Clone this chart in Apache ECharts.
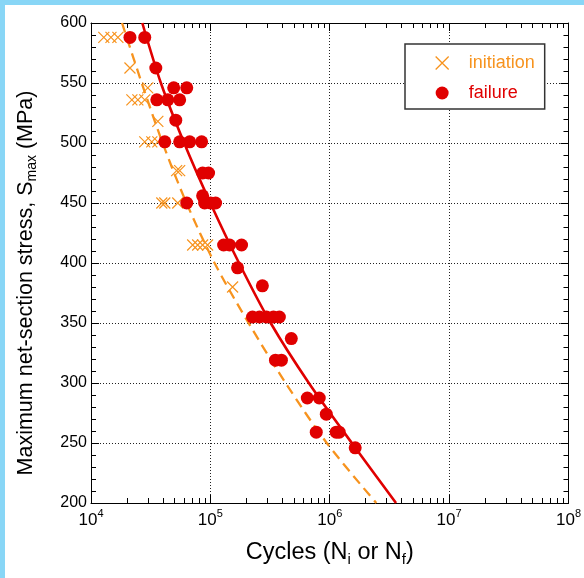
<!DOCTYPE html>
<html><head><meta charset="utf-8">
<script src="https://cdn.jsdelivr.net/npm/echarts@6/dist/echarts.min.js"></script>
<style>html,body{margin:0;padding:0;background:#fff}#c{width:584px;height:578px}</style>
</head><body><div id="c"></div>
<script>
// ---- data ----
const initiationN = [12800, 14700, 16800, 21200, 29900, 22000, 24700, 28200, 36300, 28200, 32300, 36300,
  52200, 55300, 39200, 41500, 53300, 71100, 78300, 86100, 94800, 153500];
const initiationS = [588, 588, 588, 562.5, 546, 536, 536, 536, 518, 501, 501, 501,
  477, 477, 450, 450, 450, 415, 415, 415, 415, 380];

const failureN = [21200, 28200, 34900, 49300, 63400, 35600, 44000, 55300, 51300, 41500, 55300, 67100, 84500,
  86100, 96600, 86100, 63400, 89500, 100400, 110600, 129100, 144900, 182500, 169000, 272700,
  225500, 257800, 294800, 337400, 378500, 476500, 350900, 393800, 648500, 816800, 935700,
  771000, 1133000, 1200000, 1634000];
const failureS = [588, 588, 562.5, 546, 546, 536, 536, 536, 519, 501, 501, 501, 501,
  475, 475, 456, 450, 450, 450, 450, 415, 415, 415, 396, 381,
  355, 355, 355, 355, 355, 337, 319, 319, 287.5, 287.5, 274,
  259, 259, 259, 246];

// fitted curves
const fitS = [600, 550, 500, 450, 400, 350, 300, 250, 200];
const failureFitN = [26900, 38500, 60300, 100000, 173800, 320000, 668000, 1531000, 3590000];
const initiationFitN = [18200, 26600, 39800, 63100, 108400, 208900, 426600, 944000, 2455000];

const yTicks = [200, 250, 300, 350, 400, 450, 500, 550, 600];
const xDecades = [1e4, 1e5, 1e6, 1e7, 1e8];
const legendNames = ['initiation', 'failure'];

// ---- presentation ----
const RED = '#e00000', ORANGE = '#f7931e', FONT = '"Liberation Sans", Arial, sans-serif';
const zip = (a, b) => a.map((v, i) => [v, b[i]]);
const minorLog = [];
for (let d = 4; d < 8; d++) for (let m = 2; m <= 9; m++) minorLog.push(Math.log10(m) + d);

const gridSplit = { show: true, lineStyle: { color: '#222', type: [1, 2], width: 1 } };
const axisLine = { show: true, lineStyle: { color: '#000', width: 1 } };

function xLog(pos, labels) {
  return {
    type: 'log', logBase: 10, min: xDecades[0], max: xDecades[xDecades.length - 1], position: pos,
    gridIndex: 0, axisLine: axisLine,
    axisTick: { show: true, inside: true, length: 8, lineStyle: { color: '#000' } },
    splitLine: labels ? gridSplit : { show: false },
    axisLabel: labels ? {
      show: true, margin: 5, fontFamily: FONT, color: '#000',
      formatter: v => '{b|10}{s|' + Math.round(Math.log10(v)) + '}',
      rich: {
        b: { fontSize: 17, lineHeight: 24, fontFamily: FONT, color: '#000' },
        s: { fontSize: 11, lineHeight: 11, verticalAlign: 'top', fontFamily: FONT, color: '#000' }
      }
    } : { show: false },
    name: labels ? '{m|Cycles (N}{u|i}{m| or N}{u|f}{m|)}' : '',
    nameLocation: 'middle', nameGap: 36,
    nameTextStyle: {
      rich: {
        m: { fontSize: 23.5, lineHeight: 28, fontFamily: FONT, color: '#000' },
        u: { fontSize: 15, lineHeight: 15, verticalAlign: 'bottom', fontFamily: FONT, color: '#000' }
      }
    }
  };
}
function xMinor(pos) {
  return {
    type: 'value', min: 4, max: 8, position: pos, gridIndex: 0,
    axisLine: { show: false }, axisLabel: { show: false }, splitLine: { show: false },
    axisTick: { show: true, inside: true, length: 5, customValues: minorLog, lineStyle: { color: '#000', width: 1 } }
  };
}
function yAx(pos, labels) {
  return {
    type: 'value', min: yTicks[0], max: yTicks[yTicks.length - 1], interval: 50, position: pos,
    axisLine: axisLine,
    axisTick: { show: true, inside: true, length: 8, lineStyle: { color: '#000' } },
    minorTick: { show: true, splitNumber: 5, length: 5, lineStyle: { color: '#000', width: 1 } },
    splitLine: labels ? gridSplit : { show: false },
    axisLabel: labels ? { show: true, margin: 4, fontSize: 16, fontFamily: FONT, color: '#000' } : { show: false },
    name: labels ? '{m|Maximum net-section stress, S}{u|max}{m| (MPa)}' : '',
    nameLocation: 'middle', nameRotate: 90, nameGap: 52,
    nameTextStyle: {
      padding: [0, 40, 0, 0],
      rich: {
        m: { fontSize: 21.5, lineHeight: 26, fontFamily: FONT, color: '#000' },
        u: { fontSize: 14, lineHeight: 14, verticalAlign: 'bottom', fontFamily: FONT, color: '#000' }
      }
    }
  };
}

const chart = echarts.init(document.getElementById('c'), null, { renderer: 'canvas' });
chart.setOption({
  animation: false,
  backgroundColor: '#fff',
  graphic: [
    { type: 'rect', shape: { x: 0, y: 0, width: 5, height: 578 }, style: { fill: '#88d6f6' }, z: 100 },
    { type: 'rect', shape: { x: 0, y: 0, width: 584, height: 5 }, style: { fill: '#88d6f6' }, z: 100 }
  ],
  grid: { left: 91, right: 14, top: 23, bottom: 75, containLabel: false },
  xAxis: [xLog('bottom', true), xLog('top', false), xMinor('bottom'), xMinor('top')],
  yAxis: [yAx('left', true), yAx('right', false)],
  legend: {
    orient: 'vertical', left: 405, top: 44,
    padding: [10, 10, 7, 30], itemGap: 12, itemWidth: 13, itemHeight: 13,
    backgroundColor: '#fff', borderColor: '#333', borderWidth: 1.5, borderRadius: 0,
    textStyle: { fontSize: 18, fontFamily: FONT, lineHeight: 16, padding: [0, 0, 0, 15] },
    data: [
      { name: legendNames[0], textStyle: { color: ORANGE }, itemStyle: { borderWidth: 1.3 } },
      { name: legendNames[1], textStyle: { color: RED } }
    ]
  },
  series: [
    {
      type: 'line', name: 'initFit', data: zip(initiationFitN, fitS), smooth: 0.3, showSymbol: false,
      silent: true, lineStyle: { color: ORANGE, width: 2.3, type: [10, 6] }, z: 2
    },
    {
      type: 'line', name: 'failFit', data: zip(failureFitN, fitS), smooth: 0.3, showSymbol: false,
      silent: true, lineStyle: { color: RED, width: 2.6 }, z: 2
    },
    {
      type: 'scatter', name: legendNames[0], data: zip(initiationN, initiationS),
      symbol: 'path://M0,0L10,10M0,10L10,0', symbolSize: 11,
      itemStyle: { color: ORANGE, borderColor: ORANGE, borderWidth: 1.2, opacity: 1 }, z: 3
    },
    {
      type: 'scatter', name: legendNames[1], data: zip(failureN, failureS),
      symbol: 'circle', symbolSize: 13,
      itemStyle: { color: RED, opacity: 1 }, z: 4
    }
  ]
});
</script>
</body></html>
